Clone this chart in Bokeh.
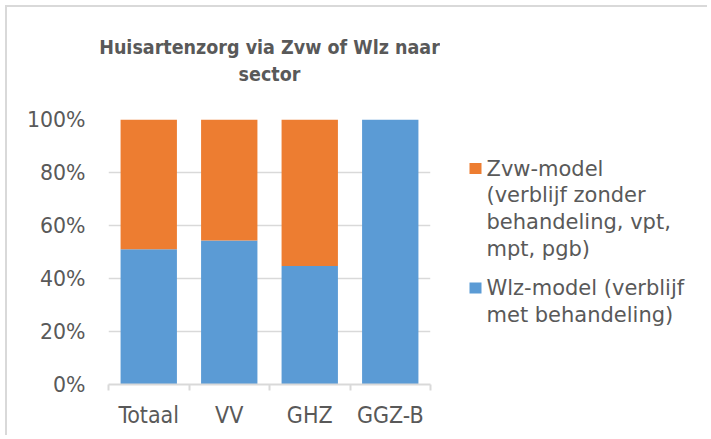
from bokeh.plotting import figure
from bokeh.layouts import row
from bokeh.models import (ColumnDataSource, Range1d, Title, NumeralTickFormatter,
                          FixedTicker, LinearAxis)
from bokeh.core.properties import value
from bokeh.embed import file_html
from bokeh.resources import INLINE

# Data
categories = ["Totaal", "VV", "GHZ", "GGZ-B"]
wlz_share = [0.51, 0.543, 0.447, 1.0]
zvw_share = [0.49, 0.457, 0.553, 0.0]
y_ticks = [0, 0.2, 0.4, 0.6, 0.8, 1.0]

title_line1 = "Huisartenzorg via Zvw of Wlz naar"
title_line2 = "sector"
label_zvw_lines = ["Zvw-model", "(verblijf zonder", "behandeling, vpt,", "mpt, pgb)"]
label_wlz_lines = ["Wlz-model (verblijf", "met behandeling)"]

BLUE = "#5B9BD5"
ORANGE = "#ED7D31"
TEXT = "#595959"
GRID = "#D9D9D9"
FONT = "DejaVu Sans"
CFONT = "DejaVu Sans Condensed"

n = len(categories)
centers = [i + 0.5 for i in range(n)]
bounds = list(range(n + 1))

source = ColumnDataSource(dict(xc=centers, wlz=wlz_share, zvw=zvw_share))

H = 428
MB_TOP, MB_BOTTOM = 112, 51
p = figure(x_range=Range1d(0, n), y_range=Range1d(0, 1),
           width=433, height=H, output_backend="svg", toolbar_location=None,
           min_border_left=101, min_border_right=10, min_border_top=MB_TOP,
           min_border_bottom=MB_BOTTOM, title=None, x_axis_location=None)
p.outline_line_color = None
p.background_fill_color = "white"
p.border_fill_color = "white"

r = p.vbar_stack(["wlz", "zvw"], x="xc", width=0.7, source=source,
                 color=[BLUE, ORANGE], line_color=None)

# titles (added from the frame outwards)
spacer = Title(text=" ", text_font_size="1px", standoff=30)
t2 = Title(text=title_line2, align="center", text_font=CFONT, text_font_size="19.5px",
           text_color=TEXT, text_font_style="bold", offset=0, standoff=2)
t1 = Title(text=title_line1, align="center", text_font=CFONT, text_font_size="19.5px",
           text_color=TEXT, text_font_style="bold", offset=0, standoff=2)
p.add_layout(spacer, "above")
p.add_layout(t2, "above")
p.add_layout(t1, "above")

# y axis
p.yaxis.ticker = FixedTicker(ticks=y_ticks)
p.yaxis.formatter = NumeralTickFormatter(format="0%")
p.yaxis.axis_line_color = None
p.yaxis.major_tick_line_color = None
p.yaxis.minor_tick_line_color = None
p.yaxis.major_label_text_font = FONT
p.yaxis.major_label_text_font_size = "20.5px"
p.yaxis.major_label_text_color = TEXT
p.yaxis.major_label_standoff = 17

# x axis: tick marks at category boundaries + category labels at centres
tick_axis = LinearAxis(ticker=FixedTicker(ticks=bounds),
                       axis_line_color=GRID, axis_line_width=2,
                       major_tick_line_color=GRID, major_tick_line_width=2,
                       major_tick_in=0, major_tick_out=6, minor_tick_line_color=None,
                       major_label_text_font_size="1px", major_label_text_alpha=0,
                       major_label_standoff=0)
label_axis = LinearAxis(ticker=FixedTicker(ticks=centers),
                        major_label_overrides={c: lab for c, lab in zip(centers, categories)},
                        axis_line_color=None, major_tick_line_color=None,
                        minor_tick_line_color=None,
                        major_label_text_font=CFONT, major_label_text_font_size="23px",
                        major_label_text_color=TEXT, major_label_standoff=5)
p.add_layout(tick_axis, "below")
p.add_layout(label_axis, "below")

p.xgrid.grid_line_color = None
p.ygrid.grid_line_color = GRID
p.ygrid.grid_line_width = 1.5

# ---- legend panel: frame aligned with the chart, y range = canvas pixels (downwards) ----
LW = 267
lg = figure(x_range=Range1d(0, LW), y_range=Range1d(H - MB_BOTTOM, MB_TOP),
            width=LW, height=H, output_backend="svg", toolbar_location=None,
            min_border_left=0, min_border_right=0, min_border_top=MB_TOP,
            min_border_bottom=MB_BOTTOM, x_axis_location=None, y_axis_location=None,
            title=None)
lg.outline_line_color = None
lg.grid.visible = False
lg.border_fill_color = "white"

box_x, box_size, text_x = 29, 12, 46
pitch = 26.7
groups = [(label_zvw_lines, ORANGE, 168.0), (label_wlz_lines, BLUE, 287.5)]
for lines, col, base in groups:
    ys = [base - 7 + i * pitch for i in range(len(lines))]
    lg.text(x=[text_x] * len(lines), y=ys, text=lines, text_font=value(FONT),
            text_font_size="21px", text_color=TEXT, text_baseline="alphabetic")
    lg.quad(left=[box_x], right=[box_x + box_size], top=[base - 12.5],
            bottom=[base - 12.5 + box_size - 1], fill_color=col, line_color=None)

lay = row(p, lg)
lay.styles = {"border-left": "2px solid #D9D9D9", "border-top": "2px solid #D9D9D9",
              "margin-left": "5px", "margin-top": "5px"}

open("out.html", "w").write(file_html(lay, INLINE))
